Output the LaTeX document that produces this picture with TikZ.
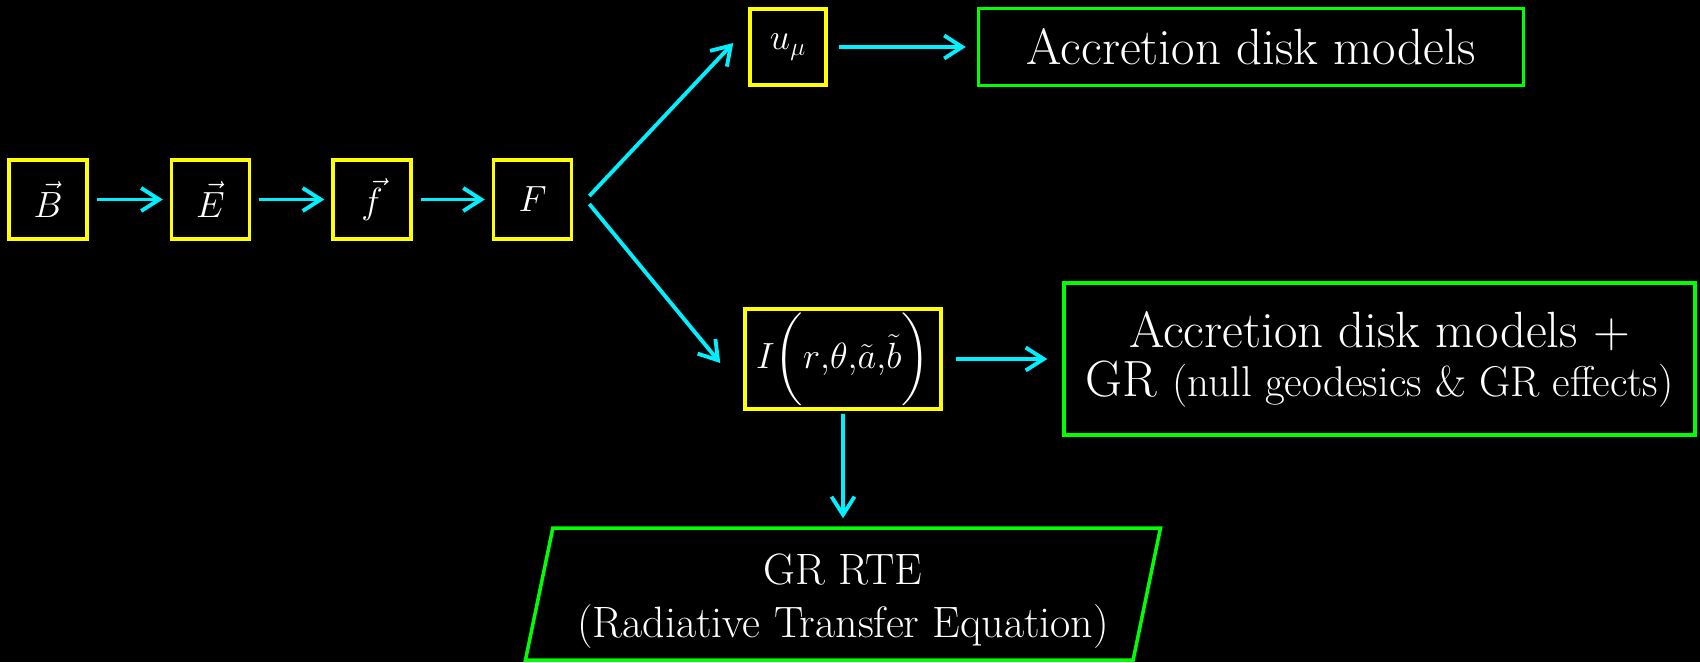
\documentclass[tikz,border=0pt]{standalone}
\usepackage{amsmath,amssymb}
\usepackage{xcolor}
\usepackage{tikz}
\usetikzlibrary{positioning,arrows.meta,shapes.geometric}
\definecolor{qbox}{RGB}{255,255,0}
\definecolor{mbox}{RGB}{0,255,0}
\definecolor{flow}{RGB}{0,240,255}
\tikzset{
  qty/.style={draw=qbox,line width=2pt,text=white,minimum width=15.6mm,minimum height=15.8mm,inner sep=0pt,font=\fontsize{22}{26}\selectfont},
  mdl/.style={draw=mbox,line width=2pt,text=white,align=center,inner sep=0pt,font=\fontsize{29}{28}\selectfont},
  rte/.style={mdl,trapezium,trapezium left angle=76,trapezium right angle=104,trapezium stretches body,font=\fontsize{25}{30.6}\selectfont},
  ar/.style={-{Straight Barb[length=3.6mm,width=4.6mm]},line width=2.2pt,flow,shorten <=1.6mm,shorten >=1.4mm},
}
\begin{document}
\begin{tikzpicture}[x=0.2mm,y=-0.2mm]
  \fill[black] (0,0) rectangle (1700,662);
  \useasboundingbox (0,0) rectangle (1700,662);
  % field chain
  \node[qty] (nB) at (48,199.5) {$\vec{B}$};
  \node[qty,right=16.2mm of nB] (nE) {$\vec{E}$};
  \node[qty,right=16mm of nE] (nf) {$\vec{f}$};
  \node[qty,right=15.8mm of nf] (nF) {$F$};
  \draw[ar] (nB)--(nE); \draw[ar] (nE)--(nf); \draw[ar] (nf)--(nF);
  % upper branch
  \node[qty,minimum width=15.2mm,minimum height=15.2mm] (nU) at (788,47) {$u_\mu$};
  \node[mdl,right=29.8mm of nU,minimum width=109mm,minimum height=15.4mm] (nAcc) {Accretion disk models};
  \draw[ar,shorten <=0pt,shorten >=0pt] ([xshift=3.2mm,yshift=0.7mm]nF.east)--([xshift=-3mm,yshift=0.8mm]nU.west);
  \draw[ar,shorten <=2.2mm,shorten >=2.2mm] (nU)--(nAcc);
  % lower branch
  \node[qty,minimum width=39.2mm,minimum height=20mm] (nI) at (843,359) {$I\biggl(r{,}\theta{,}\tilde{a}{,}\tilde{b}\biggr)$};
  \node[mdl,right=23.9mm of nI,minimum width=126.2mm,minimum height=30.4mm] (nGR) {Accretion disk models +\\GR {\fontsize{24.5}{28}\selectfont(null geodesics \& GR effects)}};
  \node[rte,below=23.1mm of nI,minimum width=127mm,minimum height=26.4mm] (nRTE) {\rule{0pt}{25.6pt}GR RTE\\(Radiative Transfer Equation)};
  \draw[ar,shorten <=0pt,shorten >=0pt] ([xshift=3.2mm,yshift=-0.9mm]nF.east)--([xshift=-4.6mm,yshift=-0.8mm]nI.west);
  \draw[ar,shorten <=2.6mm,shorten >=3mm] (nI)--(nGR);
  \draw[ar,shorten <=0.6mm,shorten >=1.6mm] (nI)--(nRTE);
\end{tikzpicture}
\end{document}
